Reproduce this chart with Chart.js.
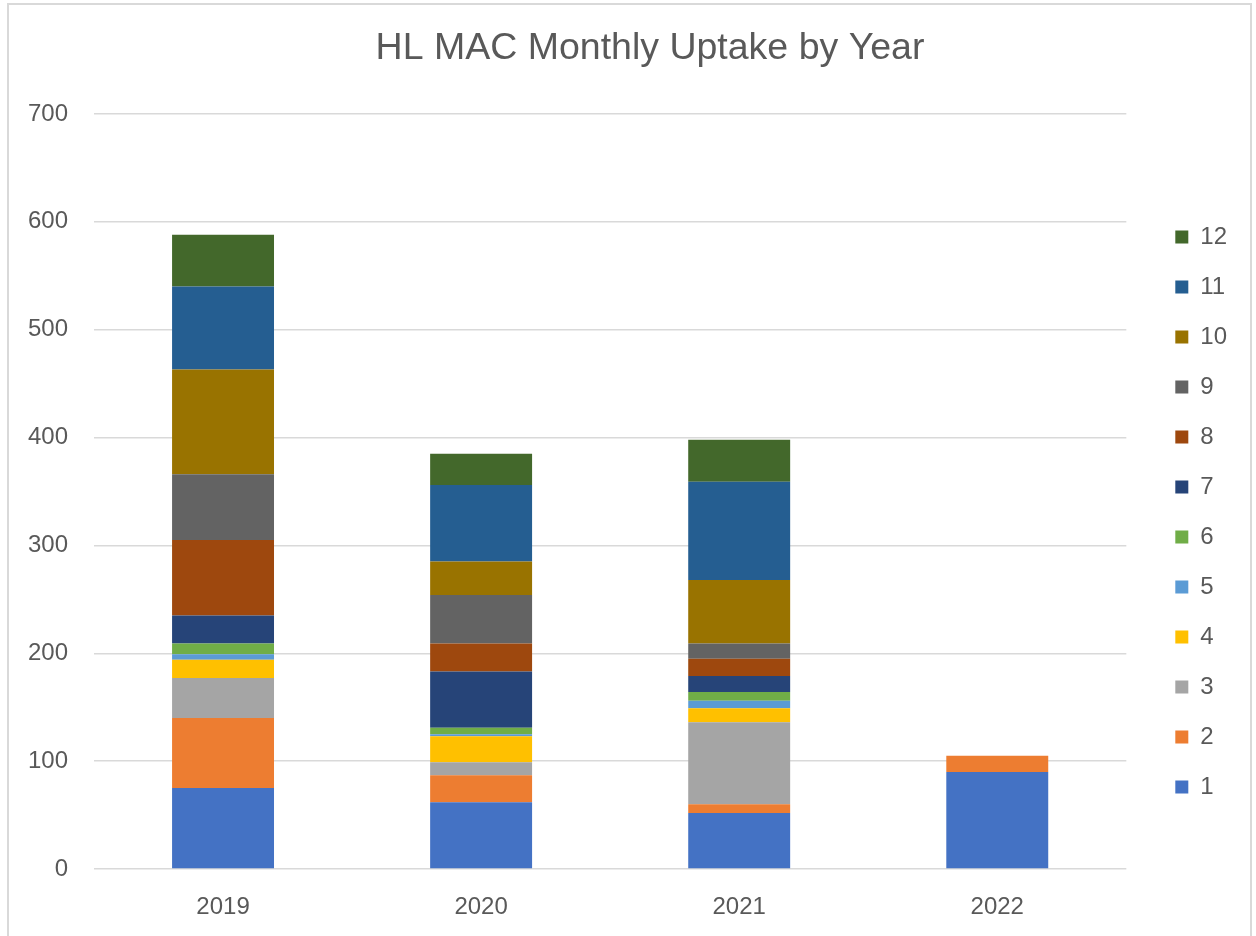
<!DOCTYPE html>
<html>
<head>
<meta charset="utf-8">
<script src="https://cdn.jsdelivr.net/npm/chart.js@4.4.1/dist/chart.umd.min.js"></script>
<style>
  html, body { margin: 0; padding: 0; background: #fff; overflow: hidden; }
  #frame {
    position: absolute; left: 7px; top: 3px;
    width: 1245px; height: 933px;
    border: 2px solid #d9d9d9; border-bottom: none; box-sizing: border-box;
  }
  #chart { position: absolute; left: 8px; top: 4px; }
</style>
</head>
<body>
<div id="frame"></div>
<canvas id="chart" width="1243" height="932"></canvas>
<script>
var years = ['2019', '2020', '2021', '2022'];
var months = ['1', '2', '3', '4', '5', '6', '7', '8', '9', '10', '11', '12'];

// uptake per month, one value per year (2019, 2020, 2021, 2022)
var m1  = [75, 62, 52, 90];
var m2  = [65, 25, 8, 15];
var m3  = [37, 12, 76, null];
var m4  = [17, 24, 13, null];
var m5  = [5, 2, 7, null];
var m6  = [10, 6, 8, null];
var m7  = [26, 52, 15, null];
var m8  = [70, 26, 16, null];
var m9  = [61, 45, 14, null];
var m10 = [97, 31, 59, null];
var m11 = [77, 71, 91, null];
var m12 = [48, 29, 39, null];

var monthData = [m1, m2, m3, m4, m5, m6, m7, m8, m9, m10, m11, m12];
var colors = ['#4472C4', '#ED7D31', '#A5A5A5', '#FFC000', '#5B9BD5', '#70AD47',
              '#264478', '#9E480E', '#636363', '#997300', '#255E91', '#43682B'];

var font = "'Liberation Sans', Arial, sans-serif";
var textColor = '#595959';

var datasets = months.map(function(m, i) {
    return {
        label: m,
        data: monthData[i],
        backgroundColor: colors[i],
        borderWidth: 0,
        categoryPercentage: 1,
        barPercentage: 0.395
    };
});

// nudge the title a bit to the right, Excel centres it over the plot
var titleShift = {
    id: 'titleShift',
    afterLayout: function(chart) {
        chart.titleBlock.left += 55;
    }
};

var ctx = document.getElementById('chart').getContext('2d');
var chart = new Chart(ctx, {
    type: 'bar',
    data: {
        labels: years,
        datasets: datasets
    },
    plugins: [titleShift],
    options: {
        responsive: false,
        animation: false,
        layout: {
            padding: { left: 0, right: 14, top: 0, bottom: 0 }
        },
        plugins: {
            title: {
                display: true,
                text: 'HL MAC Monthly Uptake by Year',
                color: textColor,
                font: { family: font, size: 37.5, weight: 'normal' },
                padding: { top: 22, bottom: 43 }
            },
            legend: {
                position: 'right',
                reverse: true,
                title: {
                    display: true,
                    text: ' ',
                    font: { family: font, size: 24 },
                    padding: { top: 55, bottom: 0 }
                },
                labels: {
                    color: textColor,
                    font: { family: font, size: 24 },
                    boxWidth: 13,
                    boxHeight: 13,
                    padding: 26
                }
            },
            tooltip: { enabled: false }
        },
        scales: {
            x: {
                stacked: true,
                grid: { display: false },
                border: { display: false },
                ticks: {
                    color: textColor,
                    font: { family: font, size: 24 },
                    padding: 16
                },
                afterFit: function(scale) { scale.height = 67; }
            },
            y: {
                stacked: true,
                min: 0,
                max: 700,
                grid: { color: '#d9d9d9', lineWidth: 1.5, drawTicks: false },
                border: { display: false },
                ticks: {
                    stepSize: 100,
                    color: textColor,
                    font: { family: font, size: 24 },
                    padding: 26
                },
                afterFit: function(scale) { scale.width = 86; }
            },
            gap: {
                position: 'right',
                min: 0,
                max: 1,
                grid: { display: false },
                border: { display: false },
                ticks: { display: false },
                afterFit: function(scale) { scale.width = 23; }
            }
        }
    }
});
</script>
</body>
</html>
